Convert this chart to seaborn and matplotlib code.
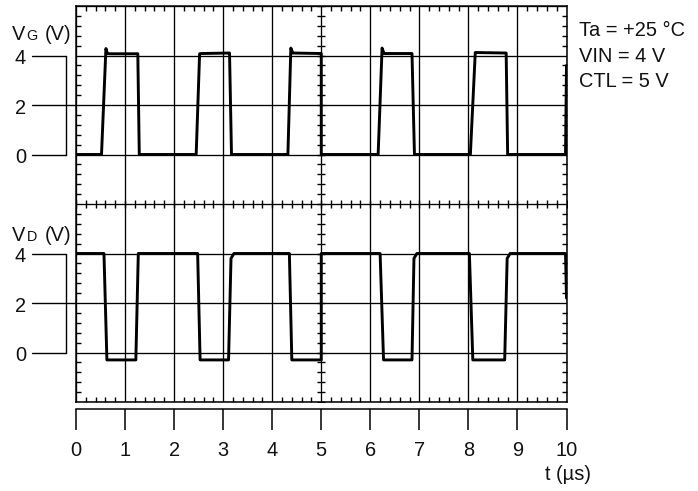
import numpy as np
import pandas as pd
import matplotlib
matplotlib.use("Agg")
import matplotlib.pyplot as plt
import matplotlib.transforms as mtransforms
from matplotlib.ticker import MultipleLocator
import seaborn as sns

# Gate voltage V_G (V) against time (µs), as breakpoints of the trace
vg_time = [0.0, 0.52, 0.61, 0.64, 0.70, 1.26, 1.29, 2.45, 2.52, 2.56, 3.13, 3.17,
           4.32, 4.38, 4.42, 5.0, 5.0, 6.16, 6.24, 6.28, 6.85, 6.90, 8.04, 8.14,
           8.77, 8.80, 9.98, 10.0]
vg_volt = [0.0, 0.0, 4.28, 4.08, 4.07, 4.07, 0.0, 0.0, 4.07, 4.08, 4.1, 0.0,
           0.0, 4.3, 4.1, 4.08, 0.0, 0.0, 4.3, 4.08, 4.08, 0.0, 0.0, 4.12,
           4.1, 0.0, 0.0, 3.6]

# Drain voltage V_D (V) against time (µs)
vd_time = [0.0, 0.57, 0.63, 1.22, 1.27, 2.48, 2.53, 3.11, 3.16, 3.22, 4.35, 4.40,
           5.0, 5.0, 6.20, 6.27, 6.85, 6.89, 6.95, 8.02, 8.09, 8.74, 8.79, 8.85,
           9.98, 10.0]
vd_volt = [4.0, 4.0, -0.3, -0.3, 4.0, 4.0, -0.3, -0.3, 3.8, 4.0, 4.0, -0.3,
           -0.3, 4.0, 4.0, -0.3, -0.3, 3.8, 4.0, 4.0, -0.3, -0.3, 3.8, 4.0,
           4.0, 2.2]

time_ticks = list(range(0, 11))
level_ticks = [0, 2, 4]
conditions = ["Ta = +25 °C", "VIN = 4 V", "CTL = 5 V"]

# Screen: 10 x 8 divisions, 1 µs/div and 2 V/div; the two channels have
# their 0 V reference at different divisions.
VG_ZERO = 5
VD_ZERO = 1
VOLTS_PER_DIV = 2

sns.set_style("white")
plt.rcParams["font.family"] = ["Liberation Sans", "DejaVu Sans"]
FS = 14.4
INK = "#111111"

df = pd.concat([
    pd.DataFrame({"t": vg_time,
                  "div": VG_ZERO + np.asarray(vg_volt) / VOLTS_PER_DIV,
                  "trace": "VG"}),
    pd.DataFrame({"t": vd_time,
                  "div": VD_ZERO + np.asarray(vd_volt) / VOLTS_PER_DIV,
                  "trace": "VD"}),
], ignore_index=True)

W, H = 698, 491
fig = plt.figure(figsize=(W / 100, H / 100), dpi=100)
ax = fig.add_axes([76 / W, 89 / H, 490.5 / W, 396 / H])

sns.lineplot(data=df, x="t", y="div", hue="trace",
             palette={"VG": "black", "VD": "black"},
             sort=False, estimator=None, linewidth=2.1, legend=False,
             ax=ax, zorder=5)

ax.set_xlim(0, 10)
ax.set_ylim(0, 8)
ax.set_xlabel("")
ax.set_ylabel("")

# graticule
ax.set_xticks(time_ticks)
ax.set_yticks(range(0, 9))
ax.grid(True, color="black", linewidth=0.95)
ax.xaxis.set_minor_locator(MultipleLocator(0.2))
ax.yaxis.set_minor_locator(MultipleLocator(0.2))
ax.tick_params(which="major", length=0, labelbottom=False, labelleft=False)
ax.tick_params(which="minor", direction="in", length=3.8, width=1.0,
               color="black", top=True, right=True, bottom=True, left=True)
for sp in ax.spines.values():
    sp.set_color("black")
    sp.set_linewidth(1.1)

# fine marks on the centre cross
fine_x = np.arange(0, 10.001, 0.2)
fine_y = np.arange(0, 8.001, 0.2)
ax.plot(fine_x, np.full_like(fine_x, 4), ls="none", marker="|", ms=6,
        mew=1.0, color="black", zorder=3)
ax.plot(np.full_like(fine_y, 5), fine_y, ls="none", marker="_", ms=6,
        mew=1.0, color="black", zorder=3)

# time axis below the screen
sec = ax.secondary_xaxis(-7.3 / 396)
sec.set_xticks(time_ticks)
sec.set_xticklabels([str(v) for v in time_ticks])
sec.tick_params(direction="out", length=14.9, width=1.1, color="black",
                labelsize=FS, labelcolor=INK, pad=8)
sec.spines["bottom"].set_linewidth(1.1)
sec.spines["bottom"].set_color("black")
fig.text(568 / W, 1 - 474 / H, "t (µs)", ha="center", va="center",
         fontsize=FS, color=INK)

# voltage scales left of the screen
trans = mtransforms.blended_transform_factory(ax.transAxes, ax.transData)
x_out, x_brk = (32 - 76) / 490.5, (66 - 76) / 490.5
x_lab = (20.5 - 76) / 490.5
for zero in (VG_ZERO, VD_ZERO):
    top = zero + max(level_ticks) / VOLTS_PER_DIV
    ax.plot([x_brk, x_brk], [zero, top], transform=trans, clip_on=False,
            color="black", lw=1.0)
    for v in level_ticks:
        d = zero + v / VOLTS_PER_DIV
        x_end = 0 if v == 2 else x_brk
        ax.plot([x_out, x_end], [d, d], transform=trans, clip_on=False,
                color="black", lw=1.0)
        ax.text(x_lab, d - 0.03, str(v), transform=trans, ha="center",
                va="center_baseline", fontsize=FS, color=INK)

# channel names with small-cap suffix
for base_px, sub in ((39.5, "G"), (241.0, "D")):
    yb = 1 - base_px / H
    fig.text(12.0 / W, yb, "V", ha="left", va="baseline", fontsize=FS, color=INK)
    fig.text(26.7 / W, yb, sub, ha="left", va="baseline", fontsize=FS * 0.72,
             color=INK)
    fig.text(44.5 / W, yb, "(V)", ha="left", va="baseline", fontsize=FS,
             color=INK)

# test conditions
for base_px, line in zip((36, 62, 87.3), conditions):
    fig.text(579.3 / W, 1 - base_px / H, line, ha="left", va="baseline",
             fontsize=FS, color=INK)

fig.savefig("out.png", dpi=100, facecolor="white")
